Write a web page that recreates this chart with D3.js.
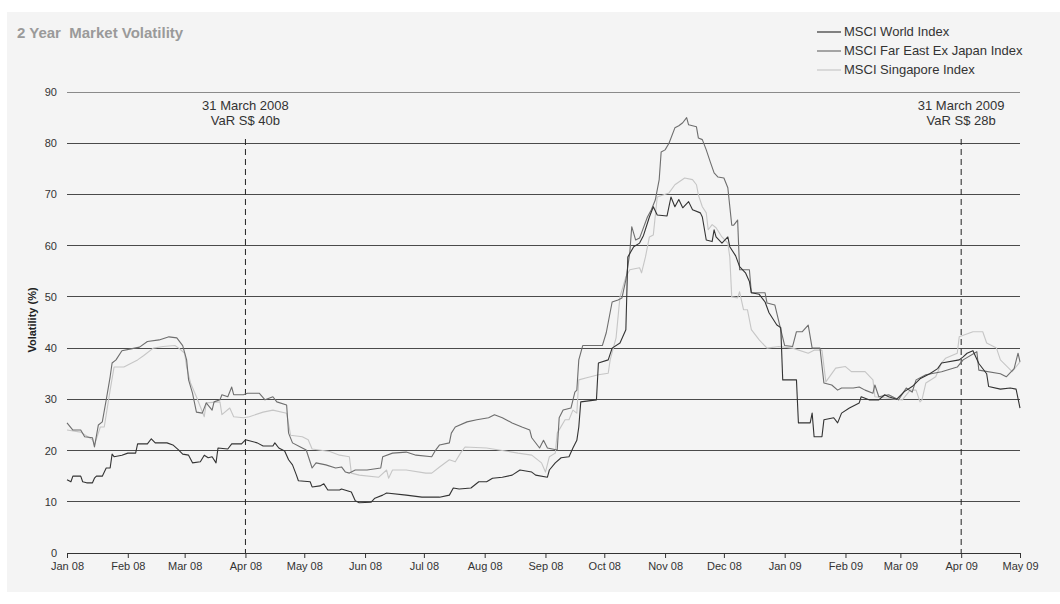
<!DOCTYPE html>
<html><head><meta charset="utf-8">
<script src="https://cdn.jsdelivr.net/npm/d3@7"></script>
<style>body{margin:0;background:#fff;}svg{display:block;font-family:"Liberation Sans",Arial,sans-serif;}</style>
</head><body>
<svg id="chart" width="1060" height="604"></svg>
<script>
const title = "2 Year  Market Volatility";
const yLabel = "Volatility (%)";
const yTicks = [0,10,20,30,40,50,60,70,80,90];
const xTickDates = ["2008-01-01","2008-02-01","2008-03-01","2008-04-01","2008-05-01","2008-06-01","2008-07-01","2008-08-01","2008-09-01","2008-10-01","2008-11-01","2008-12-01","2009-01-01","2009-02-01","2009-03-01","2009-04-01","2009-05-01"];
const seriesNames = ["MSCI World Index","MSCI Far East Ex Japan Index","MSCI Singapore Index"];
const annotations = [
  {date:"2008-04-01", lines:["31 March 2008","VaR S$ 40b"]},
  {date:"2009-04-01", lines:["31 March 2009","VaR S$ 28b"]}
];

const worldIndex = [
["2008-01-01",14.3],["2008-01-03",13.9],["2008-01-04",15],["2008-01-08",15],["2008-01-09",13.9],["2008-01-11",13.7],["2008-01-14",13.7],["2008-01-15",14.6],["2008-01-16",15],["2008-01-19",15],["2008-01-21",16.6],["2008-01-23",16.6],["2008-01-24",19.3],["2008-01-25",18.8],["2008-01-29",19.1],["2008-02-01",19.5],["2008-02-05",19.5],["2008-02-06",21.3],["2008-02-11",21.3],["2008-02-13",22.3],["2008-02-15",21.5],["2008-02-21",21.5],["2008-02-24",21.1],["2008-02-27",20.1],["2008-02-29",19.3],["2008-03-03",19.1],["2008-03-05",17.6],["2008-03-09",17.8],["2008-03-11",19.1],["2008-03-13",18.6],["2008-03-15",18.8],["2008-03-17",17.6],["2008-03-18",20.5],["2008-03-23",20.3],["2008-03-25",21.3],["2008-03-30",21.3],["2008-04-01",22.1],["2008-04-03",21.9],["2008-04-07",21.5],["2008-04-10",20.9],["2008-04-15",20.9],["2008-04-16",21.5],["2008-04-18",20.5],["2008-04-21",19.9],["2008-04-23",18.2],["2008-04-25",17.2],["2008-04-27",15.2],["2008-04-28",14.1],["2008-05-04",13.9],["2008-05-05",12.9],["2008-05-09",13.1],["2008-05-11",13.5],["2008-05-13",12.3],["2008-05-19",12.3],["2008-05-20",12.5],["2008-05-25",11.9],["2008-05-27",10.2],["2008-05-29",9.8],["2008-06-04",9.9],["2008-06-06",10.7],["2008-06-10",11.3],["2008-06-12",11.7],["2008-06-22",11.3],["2008-06-30",10.9],["2008-07-09",10.9],["2008-07-14",11.3],["2008-07-16",12.7],["2008-07-19",12.5],["2008-07-25",12.7],["2008-07-29",13.9],["2008-08-02",13.9],["2008-08-05",14.6],["2008-08-10",14.8],["2008-08-15",15.2],["2008-08-19",16.2],["2008-08-25",15.8],["2008-08-27",15.2],["2008-09-02",14.8],["2008-09-03",16.2],["2008-09-06",17.6],["2008-09-09",18.6],["2008-09-13",18.8],["2008-09-15",20.5],["2008-09-17",22],["2008-09-18",24.6],["2008-09-19",29.5],["2008-09-27",29.9],["2008-09-28",37.1],["2008-10-03",37.7],["2008-10-05",40],["2008-10-09",41],["2008-10-12",43.6],["2008-10-13",57.8],["2008-10-16",59.8],["2008-10-19",60.5],["2008-10-21",62],["2008-10-24",65.6],["2008-10-26",67.6],["2008-10-28",66],["2008-11-02",65.8],["2008-11-04",69.5],["2008-11-06",67.6],["2008-11-08",69],["2008-11-10",67.4],["2008-11-13",68.6],["2008-11-15",67],["2008-11-19",66.4],["2008-11-20",65.6],["2008-11-22",61.1],["2008-11-25",60.8],["2008-11-26",63.1],["2008-11-27",61.7],["2008-11-30",60.5],["2008-12-03",61.7],["2008-12-04",59.8],["2008-12-07",58],["2008-12-09",55.9],["2008-12-12",54.7],["2008-12-14",53],["2008-12-15",50.8],["2008-12-19",50.5],["2008-12-22",49],["2008-12-24",46.9],["2008-12-28",44.5],["2008-12-30",44],["2008-12-31",33.8],["2009-01-07",33.8],["2009-01-08",25.4],["2009-01-14",25.4],["2009-01-15",27.3],["2009-01-16",22.7],["2009-01-20",22.7],["2009-01-21",26],["2009-01-26",26.4],["2009-01-28",25.4],["2009-01-30",27.3],["2009-02-03",28.3],["2009-02-08",29.3],["2009-02-09",30.5],["2009-02-13",29.9],["2009-02-18",29.9],["2009-02-21",30.9],["2009-02-23",30.5],["2009-02-27",30],["2009-03-03",31.5],["2009-03-07",32.5],["2009-03-11",34],["2009-03-16",35],["2009-03-20",36],["2009-03-22",37.1],["2009-03-31",37.7],["2009-04-02",38.3],["2009-04-04",39],["2009-04-07",39.5],["2009-04-10",37],["2009-04-14",35],["2009-04-15",32.5],["2009-04-21",32],["2009-04-26",32.2],["2009-04-29",32],["2009-05-01",28.3]
];

const farEastIndex = [
["2008-01-01",25.4],["2008-01-04",24],["2008-01-08",24],["2008-01-10",22.7],["2008-01-14",22.5],["2008-01-15",20.7],["2008-01-17",25],["2008-01-19",25.6],["2008-01-21",29.9],["2008-01-23",34.4],["2008-01-24",37.1],["2008-01-26",37.7],["2008-01-29",39.5],["2008-02-02",39.8],["2008-02-07",40.2],["2008-02-11",41.3],["2008-02-17",41.6],["2008-02-22",42.2],["2008-02-26",42],["2008-02-29",40.5],["2008-03-02",37.7],["2008-03-03",33.8],["2008-03-05",31.2],["2008-03-07",27.5],["2008-03-10",27.3],["2008-03-12",29.3],["2008-03-15",27.9],["2008-03-16",29.5],["2008-03-19",29.9],["2008-03-20",30.9],["2008-03-23",30.5],["2008-03-25",32.4],["2008-03-26",30.9],["2008-03-31",30.9],["2008-04-02",31.2],["2008-04-08",31.2],["2008-04-11",29.9],["2008-04-15",30.5],["2008-04-17",29.5],["2008-04-22",28.9],["2008-04-23",23.4],["2008-04-25",21.5],["2008-04-29",20.7],["2008-05-02",20.1],["2008-05-05",16.6],["2008-05-07",17.6],["2008-05-12",17.2],["2008-05-17",16.6],["2008-05-20",16.8],["2008-05-22",15.8],["2008-05-24",15.6],["2008-05-27",16.2],["2008-06-02",16.2],["2008-06-09",16.6],["2008-06-10",18.8],["2008-06-15",19.5],["2008-06-22",19.7],["2008-06-27",19.1],["2008-07-05",18.8],["2008-07-07",20.1],["2008-07-09",21.1],["2008-07-14",21.5],["2008-07-15",23.4],["2008-07-17",24.6],["2008-07-23",25.6],["2008-07-28",26],["2008-08-03",26.4],["2008-08-06",27],["2008-08-10",26.4],["2008-08-15",25.4],["2008-08-20",24.6],["2008-08-24",24],["2008-08-25",22.5],["2008-08-29",20.5],["2008-08-31",22],["2008-09-02",20.5],["2008-09-07",20.1],["2008-09-08",26.4],["2008-09-10",27.9],["2008-09-14",28.3],["2008-09-16",31.4],["2008-09-17",31.8],["2008-09-18",37.7],["2008-09-20",40.5],["2008-09-30",40.5],["2008-10-02",43],["2008-10-04",47],["2008-10-05",49],["2008-10-08",49.4],["2008-10-10",49.8],["2008-10-12",53.3],["2008-10-14",58.6],["2008-10-15",63.7],["2008-10-17",61.1],["2008-10-19",61.5],["2008-10-20",62.5],["2008-10-23",65.6],["2008-10-25",67],["2008-10-27",68.9],["2008-10-29",72.9],["2008-10-30",78.3],["2008-11-01",78.7],["2008-11-03",80],["2008-11-06",83],["2008-11-08",83.4],["2008-11-10",84],["2008-11-12",85],["2008-11-13",83.6],["2008-11-17",83.2],["2008-11-18",81],["2008-11-20",80.7],["2008-11-22",78.7],["2008-11-24",76.4],["2008-11-26",74.2],["2008-11-28",73.4],["2008-12-01",73.2],["2008-12-03",71.3],["2008-12-05",64],["2008-12-06",64],["2008-12-08",65],["2008-12-09",55.3],["2008-12-14",55.3],["2008-12-15",50.8],["2008-12-22",50.8],["2008-12-23",48.8],["2008-12-27",48.4],["2008-12-30",43.6],["2009-01-01",40.5],["2009-01-05",40.3],["2009-01-07",43.2],["2009-01-10",43.2],["2009-01-13",44.5],["2009-01-15",40],["2009-01-19",40],["2009-01-21",33.2],["2009-01-25",32.8],["2009-01-28",31.8],["2009-01-30",32.2],["2009-02-05",32.2],["2009-02-08",32.4],["2009-02-11",31.8],["2009-02-15",31.2],["2009-02-16",32.8],["2009-02-18",30.5],["2009-02-23",30.9],["2009-02-28",29.9],["2009-03-04",32.2],["2009-03-07",31.4],["2009-03-09",33.8],["2009-03-14",34.8],["2009-03-22",35.4],["2009-03-30",36.3],["2009-04-02",37.7],["2009-04-09",39.3],["2009-04-10",35.7],["2009-04-21",35],["2009-04-24",34.4],["2009-04-28",36],["2009-04-30",39],["2009-05-01",37.3]
];

const singaporeIndex = [
["2008-01-01",24],["2008-01-08",23.6],["2008-01-14",22.1],["2008-01-15",21.1],["2008-01-18",24.6],["2008-01-20",24.6],["2008-01-23",31.8],["2008-01-25",36.3],["2008-01-30",36.3],["2008-02-03",37.1],["2008-02-06",37.7],["2008-02-09",38.5],["2008-02-14",40],["2008-02-19",40.3],["2008-02-25",40.5],["2008-02-27",40],["2008-03-01",39],["2008-03-02",36.3],["2008-03-04",33.2],["2008-03-07",30.5],["2008-03-11",26.6],["2008-03-12",29.3],["2008-03-19",29.5],["2008-03-20",27],["2008-03-24",28.3],["2008-03-26",26.6],["2008-03-31",26.4],["2008-04-03",26.6],["2008-04-10",27.5],["2008-04-15",27.9],["2008-04-22",27.3],["2008-04-24",23],["2008-04-30",22.7],["2008-05-03",22.1],["2008-05-05",20.3],["2008-05-14",19.8],["2008-05-19",19.1],["2008-05-24",18.8],["2008-05-25",15.6],["2008-05-29",15.2],["2008-06-08",14.8],["2008-06-12",16.2],["2008-06-13",14.6],["2008-06-15",16.2],["2008-06-22",16.2],["2008-07-02",15.6],["2008-07-05",15.6],["2008-07-09",16.8],["2008-07-14",18.2],["2008-07-17",17.8],["2008-07-20",19.7],["2008-07-22",20.7],["2008-08-02",20.5],["2008-08-15",19.7],["2008-08-18",19.5],["2008-08-25",19.1],["2008-08-30",17.6],["2008-09-01",15.8],["2008-09-03",18.8],["2008-09-06",19.5],["2008-09-07",23.4],["2008-09-11",26],["2008-09-13",26],["2008-09-15",27.9],["2008-09-17",27.3],["2008-09-18",33.8],["2008-09-22",34.2],["2008-09-28",34.8],["2008-10-03",35.1],["2008-10-04",37.7],["2008-10-07",42],["2008-10-09",50],["2008-10-12",53.9],["2008-10-14",55.3],["2008-10-19",55.7],["2008-10-20",54.7],["2008-10-22",57.8],["2008-10-24",61.7],["2008-10-26",62.1],["2008-10-28",69.5],["2008-11-03",70.3],["2008-11-06",71.9],["2008-11-11",73.2],["2008-11-15",72.9],["2008-11-17",71.9],["2008-11-18",69.9],["2008-11-20",67.6],["2008-11-22",66.4],["2008-11-23",63.1],["2008-11-25",64.1],["2008-11-27",63.5],["2008-11-30",61.7],["2008-12-03",60.5],["2008-12-04",57.8],["2008-12-05",50],["2008-12-08",49.8],["2008-12-09",51],["2008-12-11",47.5],["2008-12-13",47.5],["2008-12-15",43.6],["2008-12-19",41.6],["2008-12-23",40],["2008-12-29",40.3],["2009-01-05",40],["2009-01-13",39],["2009-01-16",39.6],["2009-01-20",39.6],["2009-01-22",33.4],["2009-01-27",36.1],["2009-02-01",36.4],["2009-02-04",35.4],["2009-02-11",35.4],["2009-02-15",33.8],["2009-02-16",30.5],["2009-02-23",30.2],["2009-03-02",29.9],["2009-03-06",31.8],["2009-03-09",31.8],["2009-03-11",29.5],["2009-03-12",29.9],["2009-03-14",33.2],["2009-03-19",34.4],["2009-03-22",37.1],["2009-03-24",38],["2009-03-30",39],["2009-03-31",42.2],["2009-04-07",43.2],["2009-04-12",43.2],["2009-04-14",41],["2009-04-19",40],["2009-04-21",37.7],["2009-04-27",35.4],["2009-05-01",37.3]
];

const seriesColors = ["#333333","#6e6e6e","#c6c6c6"];

const parse = d3.timeParse("%Y-%m-%d");
const svg = d3.select("#chart");

// panel background
svg.append("rect").attr("x",7).attr("y",12).attr("width",1053).attr("height",580).attr("fill","#f4f4f4");

const x = d3.scaleTime().domain([parse("2008-01-01"), parse("2009-05-01")]).range([67,1020]);
const y = d3.scaleLinear().domain([0,90]).range([553,92]);

// title
svg.append("text").attr("x",17).attr("y",38).attr("font-size",15).attr("font-weight","bold").attr("fill","#9a9a9a").attr("xml:space","preserve").text(title);

// gridlines
svg.append("g").selectAll("line").data(yTicks.filter(d=>d>0)).join("line")
  .attr("x1",x.range()[0]).attr("x2",x.range()[1])
  .attr("y1",d=>y(d)).attr("y2",d=>y(d))
  .attr("stroke",d=>d===90?"#8a8a8a":"#4a4a4a").attr("stroke-width",1).attr("shape-rendering","crispEdges");

// y axis labels
const yAxis = d3.axisLeft(y).tickValues(yTicks).tickSize(0).tickPadding(10);
const gy = svg.append("g").attr("transform",`translate(${x.range()[0]},0)`).call(yAxis);
gy.select(".domain").remove();
gy.selectAll("text").attr("font-size",11).attr("fill","#333").attr("font-family","Liberation Sans, Arial, sans-serif");

// x axis
const xAxis = d3.axisBottom(x).tickValues(xTickDates.map(parse)).tickFormat(d3.timeFormat("%b %y")).tickSize(5).tickPadding(4);
const gx = svg.append("g").attr("transform",`translate(0,${y(0)})`).call(xAxis);
gx.select(".domain").attr("stroke","#333").attr("shape-rendering","crispEdges");
gx.selectAll(".tick line").attr("stroke","#333");
gx.selectAll("text").attr("font-size",11).attr("fill","#333").attr("font-family","Liberation Sans, Arial, sans-serif");

// y label
svg.append("text").attr("transform","translate(36,320) rotate(-90)").attr("text-anchor","middle")
  .attr("font-size",11).attr("font-weight","bold").attr("fill","#222").text(yLabel);

// annotations
annotations.forEach(a=>{
  const xa = x(parse(a.date));
  svg.append("line").attr("x1",xa).attr("x2",xa).attr("y1",139).attr("y2",y(0))
    .attr("stroke","#222").attr("stroke-width",1).attr("stroke-dasharray","6,4");
  a.lines.forEach((t,i)=>{
    svg.append("text").attr("x",xa).attr("y",110+i*15).attr("text-anchor","middle")
      .attr("font-size",13).attr("fill","#333").text(t);
  });
});

// lines
const line = d3.line().x(d=>x(parse(d[0]))).y(d=>y(d[1]));
const allSeries = [worldIndex, farEastIndex, singaporeIndex];
[2,1,0].forEach(i=>{
  svg.append("path").datum(allSeries[i]).attr("d",line).attr("fill","none")
    .attr("stroke",seriesColors[i]).attr("stroke-width",1.1).attr("stroke-linejoin","round");
});

// legend
seriesNames.forEach((n,i)=>{
  const ly = 32 + i*19;
  svg.append("line").attr("x1",817).attr("x2",841).attr("y1",ly).attr("y2",ly).attr("stroke",seriesColors[i]).attr("stroke-width",1.2);
  svg.append("text").attr("x",844).attr("y",ly+4).attr("font-size",13).attr("fill","#333").text(n);
});
</script>
</body></html>
